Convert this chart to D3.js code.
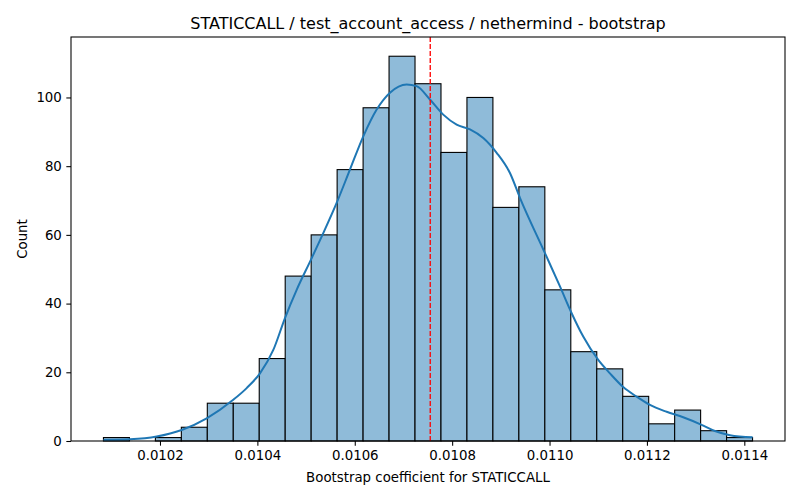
<!DOCTYPE html>
<html>
<head>
<meta charset="utf-8">
<script src="https://cdn.jsdelivr.net/npm/d3@7"></script>
<style>
  html, body { margin: 0; padding: 0; background: #fff; }
  text { font-family: "DejaVu Sans", sans-serif; fill: #000; }
</style>
</head>
<body>
<svg id="chart" width="800" height="500"></svg>
<script>
// ---- data ----
const binStart = 0.0100839;
const binWidth = 0.00005332;
const binCounts = [1, 0, 1, 4, 11, 11, 24, 48, 60, 79, 97, 112, 104, 84, 100, 68, 74, 44, 26, 21, 13, 5, 9, 3, 1];
const kdeX = [0.0100839, 0.0101384, 0.0101932, 0.0102446, 0.0102959, 0.0103505, 0.0103780, 0.0104053, 0.0104327, 0.0104567,
              0.0104807, 0.0105101, 0.0105353, 0.0105628, 0.0105901, 0.0106175, 0.0106450, 0.0106723, 0.0107066, 0.0107271,
              0.0107544, 0.0107817, 0.0108092, 0.0108366, 0.0108639, 0.0108914, 0.0109187, 0.0109392, 0.0109906, 0.0110214,
              0.0110454, 0.0110692, 0.0111000, 0.0111240, 0.0111513, 0.0111789, 0.0112062, 0.0112405, 0.0112745, 0.0113123,
              0.0113396, 0.0113704, 0.0114170];
const kdeY = [0.3, 0.5, 1.3, 3.2, 6.6, 12, 15.4, 19.7, 26.5, 35.8,
              44, 52.8, 60.5, 69.3, 79, 88.7, 96.5, 101.4, 103.8, 103.3,
              99.4, 95, 92.1, 90.7, 88.2, 83.9, 78, 70.8, 54.7, 45,
              37.2, 30.4, 23.6, 19.7, 15.7, 12.9, 10.5, 8.5, 6.9, 4.7,
              2.9, 1.7, 1.1];
const refLine = 0.010755;
const xTicks = [0.0102, 0.0104, 0.0106, 0.0108, 0.0110, 0.0112, 0.0114];
const xTickLabels = ["0.0102", "0.0104", "0.0106", "0.0108", "0.0110", "0.0112", "0.0114"];
const yTicks = [0, 20, 40, 60, 80, 100];
const title = "STATICCALL / test_account_access / nethermind - bootstrap";
const xLabel = "Bootstrap coefficient for STATICCALL";
const yLabel = "Count";

// ---- layout ----
const svg = d3.select("#chart");
const L = 71, R = 785, T = 37, B = 441;

const dataMin = binStart, dataMax = binStart + binWidth * binCounts.length;
const pad = (dataMax - dataMin) * 0.05;
const x = d3.scaleLinear().domain([dataMin - pad, dataMax + pad]).range([L, R]);
const yMax = d3.max(binCounts) * 1.05;
const y = d3.scaleLinear().domain([0, yMax]).range([B, T]);

const bins = binCounts.map((c, i) => ({ x0: binStart + i * binWidth, x1: binStart + (i + 1) * binWidth, c }));

// bars
svg.append("g").selectAll("rect").data(bins).join("rect")
  .attr("x", d => x(d.x0))
  .attr("y", d => y(d.c))
  .attr("width", d => x(d.x1) - x(d.x0))
  .attr("height", d => y(0) - y(d.c))
  .attr("fill", "#8fbbd9")
  .attr("stroke", "#000")
  .attr("stroke-width", 1.1);

// kde
const kde = kdeX.map((v, i) => [v, kdeY[i]]);
svg.append("path")
  .datum(kde)
  .attr("fill", "none")
  .attr("stroke", "#1f77b4")
  .attr("stroke-width", 2)
  .attr("d", d3.line().x(d => x(d[0])).y(d => y(d[1])).curve(d3.curveMonotoneX));

// reference line
svg.append("line")
  .attr("x1", x(refLine)).attr("x2", x(refLine))
  .attr("y1", T).attr("y2", B)
  .attr("stroke", "red")
  .attr("stroke-width", 1.33)
  .attr("stroke-dasharray", "4.9,2.1");

// axes
const xAxis = d3.axisBottom(x).tickValues(xTicks).tickFormat((d, i) => xTickLabels[i]).tickSize(4.67).tickPadding(4.5);
const yAxis = d3.axisLeft(y).tickValues(yTicks).tickSize(4.67).tickPadding(4.5);

const gx = svg.append("g").attr("transform", `translate(0,${B})`).call(xAxis);
const gy = svg.append("g").attr("transform", `translate(${L},0)`).call(yAxis);
[gx, gy].forEach(g => {
  g.select(".domain").remove();
  g.selectAll(".tick line").attr("stroke", "#000").attr("stroke-width", 1.07);
  g.selectAll(".tick text").attr("font-size", "13.33px").attr("font-family", "DejaVu Sans, sans-serif").attr("fill", "#000");
});

// spines
svg.append("rect")
  .attr("x", L).attr("y", T).attr("width", R - L).attr("height", B - T)
  .attr("fill", "none").attr("stroke", "#000").attr("stroke-width", 1.07);

// labels
svg.append("text")
  .attr("x", (L + R) / 2).attr("y", 29)
  .attr("text-anchor", "middle")
  .attr("font-size", "16px")
  .text(title);

svg.append("text")
  .attr("x", (L + R) / 2).attr("y", 482)
  .attr("text-anchor", "middle")
  .attr("font-size", "13.33px")
  .text(xLabel);

svg.append("text")
  .attr("transform", `translate(27,${(T + B) / 2}) rotate(-90)`)
  .attr("text-anchor", "middle")
  .attr("font-size", "13.33px")
  .text(yLabel);
</script>
</body>
</html>
